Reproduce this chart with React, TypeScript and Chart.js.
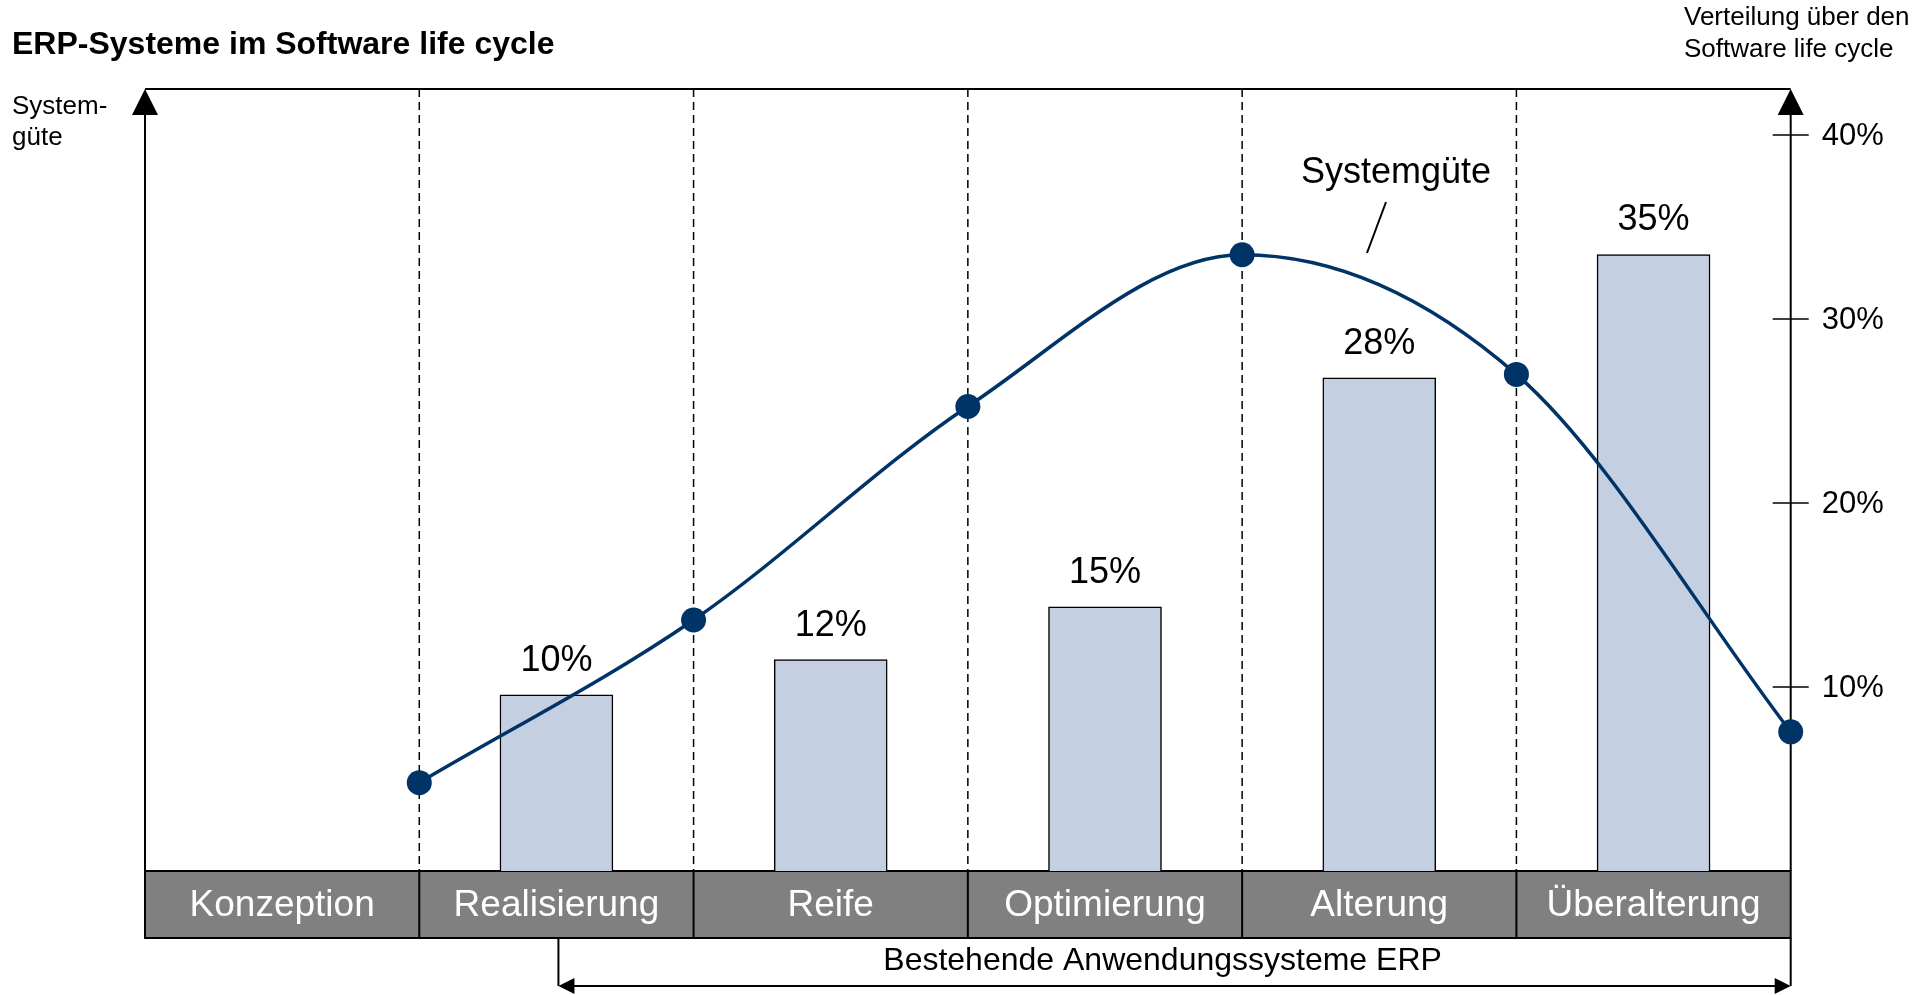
import React, { useEffect, useRef } from "react";
import { Chart, registerables } from "chart.js";

Chart.register(...registerables);

const categories = ["Konzeption", "Realisierung", "Reife", "Optimierung", "Alterung", "Überalterung"];
// share of systems per phase (percent); null = no bar
const shareValues: (number | null)[] = [null, 10, 12, 15, 28, 35];
// Systemgüte (relative quality index 0..100) at the end of each phase
const qualityValues = [11.3, 32.1, 59.4, 78.8, 63.5, 17.8];
const pctTicks = [10, 20, 30, 40];

const titleText = "ERP-Systeme im Software life cycle";
const leftAxisLabel = ["System-", "güte"];
const rightAxisLabel = ["Verteilung über den", "Software life cycle"];
const curveLabel = "Systemgüte";
const bracketLabel = "Bestehende Anwendungssysteme ERP";

const FONT = '"Liberation Sans", Arial, sans-serif';
const NAVY = "#003366";

function line(ctx: CanvasRenderingContext2D, x1: number, y1: number, x2: number, y2: number) {
  ctx.beginPath();
  ctx.moveTo(x1, y1);
  ctx.lineTo(x2, y2);
  ctx.stroke();
}

function tri(ctx: CanvasRenderingContext2D, pts: number[][]) {
  ctx.beginPath();
  ctx.moveTo(pts[0][0], pts[0][1]);
  ctx.lineTo(pts[1][0], pts[1][1]);
  ctx.lineTo(pts[2][0], pts[2][1]);
  ctx.closePath();
  ctx.fill();
}

const chromePlugin = {
  id: "chrome",
  beforeDatasetsDraw(chart: any) {
    const { ctx, chartArea: a, scales } = chart;
    const xs = scales.x;
    ctx.save();
    ctx.strokeStyle = "#000";
    ctx.fillStyle = "#000";

    // dashed phase boundaries
    ctx.lineWidth = 1.5;
    ctx.setLineDash([8, 5]);
    for (let i = 1; i < categories.length; i++) {
      const px = xs.getPixelForValue(i);
      line(ctx, px, a.top, px, a.bottom);
    }
    ctx.setLineDash([]);

    // top border + axes
    ctx.lineWidth = 2;
    line(ctx, a.left, a.top, a.right, a.top);
    line(ctx, a.left, a.bottom, a.left, a.top + 10);
    line(ctx, a.right, a.bottom, a.right, a.top + 10);
    tri(ctx, [[a.left, a.top], [a.left - 13, a.top + 26], [a.left + 13, a.top + 26]]);
    tri(ctx, [[a.right, a.top], [a.right - 13, a.top + 26], [a.right + 13, a.top + 26]]);

    // right-hand percent ticks
    const yp = scales.yPct;
    ctx.font = `31px ${FONT}`;
    ctx.textAlign = "left";
    ctx.textBaseline = "middle";
    ctx.lineWidth = 1.5;
    pctTicks.forEach((t) => {
      const py = yp.getPixelForValue(t);
      line(ctx, a.right - 18, py, a.right + 18, py);
      ctx.fillText(`${t}%`, a.right + 31, py + 1);
    });

    // phase band
    const bandTop = a.bottom;
    const bandBottom = a.bottom + 67;
    ctx.fillStyle = "#808080";
    ctx.fillRect(a.left, bandTop, a.right - a.left, bandBottom - bandTop);
    ctx.lineWidth = 2;
    ctx.strokeStyle = "#000";
    ctx.strokeRect(a.left, bandTop, a.right - a.left, bandBottom - bandTop);
    for (let i = 1; i < categories.length; i++) {
      const px = xs.getPixelForValue(i);
      line(ctx, px, bandTop, px, bandBottom);
    }
    ctx.fillStyle = "#fff";
    ctx.font = `37px ${FONT}`;
    ctx.textAlign = "center";
    categories.forEach((c, i) => {
      ctx.fillText(c, xs.getPixelForValue(i + 0.5), (bandTop + bandBottom) / 2 + 1);
    });

    // bracket
    ctx.fillStyle = "#000";
    const bx1 = xs.getPixelForValue(1.5) + 2;
    const bx2 = a.right;
    const by = bandBottom + 48;
    ctx.lineWidth = 2;
    line(ctx, bx1, bandBottom, bx1, by);
    line(ctx, bx2, bandBottom, bx2, by);
    line(ctx, bx1 + 8, by, bx2 - 8, by);
    tri(ctx, [[bx1, by], [bx1 + 16, by - 8], [bx1 + 16, by + 8]]);
    tri(ctx, [[bx2, by], [bx2 - 16, by - 8], [bx2 - 16, by + 8]]);
    ctx.font = `32px ${FONT}`;
    ctx.textAlign = "center";
    ctx.fillText(bracketLabel, (bx1 + bx2) / 2 - 12, by - 25);

    // title and axis captions
    ctx.textAlign = "left";
    ctx.font = `bold 32px ${FONT}`;
    ctx.fillText(titleText, 12, 45);
    ctx.font = `26px ${FONT}`;
    ctx.fillText(leftAxisLabel[0], 12, 107);
    ctx.fillText(leftAxisLabel[1], 12, 138);
    ctx.fillText(rightAxisLabel[0], 1684, 18);
    ctx.fillText(rightAxisLabel[1], 1684, 50);
    ctx.restore();
  },
  afterDatasetsDraw(chart: any) {
    const { ctx } = chart;
    ctx.save();
    ctx.fillStyle = "#000";
    ctx.strokeStyle = "#000";
    ctx.font = `36px ${FONT}`;
    ctx.textAlign = "center";
    ctx.textBaseline = "middle";
    const meta = chart.getDatasetMeta(1);
    meta.data.forEach((el: any, i: number) => {
      const v = shareValues[i];
      if (v == null) return;
      ctx.fillText(`${v}%`, el.x, el.y - 34);
    });

    // curve annotation
    ctx.font = `36px ${FONT}`;
    ctx.textBaseline = "alphabetic";
    ctx.fillText(curveLabel, 1396, 183);
    ctx.lineWidth = 2;
    line(ctx, 1386, 202, 1367, 253);
    ctx.restore();
  },
};

export default function App() {
  const ref = useRef<HTMLCanvasElement | null>(null);

  useEffect(() => {
    if (!ref.current) return;
    const chart = new Chart(ref.current, {
      data: {
        datasets: [
          {
            type: "line",
            label: curveLabel,
            data: qualityValues.map((v, i) => ({ x: i + 1, y: v })),
            xAxisID: "x",
            yAxisID: "yLine",
            borderColor: NAVY,
            borderWidth: 3.5,
            backgroundColor: NAVY,
            pointBackgroundColor: NAVY,
            pointBorderWidth: 0,
            pointRadius: 12.5,
            cubicInterpolationMode: "monotone",
            clip: false,
            order: 0,
          } as any,
          {
            type: "bar",
            label: "Verteilung",
            data: shareValues.map((v, i) => ({ x: i + 0.5, y: v })),
            xAxisID: "x",
            yAxisID: "yBars",
            backgroundColor: "#C4CFE1",
            borderColor: "#000",
            borderWidth: 1.5,
            borderSkipped: "bottom",
            barThickness: 113,
            order: 1,
          } as any,
        ],
      },
      options: {
        responsive: false,
        animation: false,
        layout: { padding: { left: 145, right: 123.3, top: 89, bottom: 124 } },
        plugins: { legend: { display: false }, tooltip: { enabled: false }, title: { display: false } },
        scales: {
          x: { type: "linear", min: 0, max: categories.length, offset: false, display: false },
          yLine: { type: "linear", min: 0, max: 100, display: false },
          yBars: { type: "linear", min: 0, max: 44.4, display: false },
          yPct: { type: "linear", min: 0, max: 42.5, display: false },
        },
      } as any,
      plugins: [chromePlugin],
    });
    return () => chart.destroy();
  }, []);

  return (
    <div style={{ position: "fixed", left: 0, top: 0, width: 1914, height: 995, background: "#fff" }}>
      <canvas ref={ref} width={1914} height={995} style={{ display: "block", width: 1914, height: 995 }} />
    </div>
  );
}
